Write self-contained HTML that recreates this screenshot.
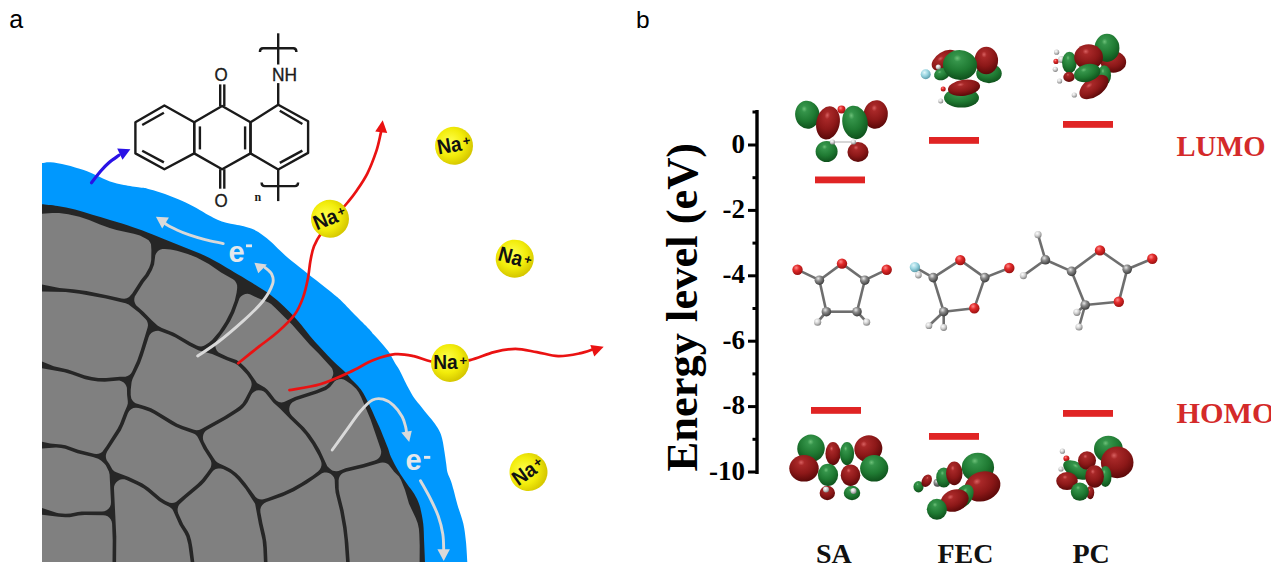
<!DOCTYPE html>
<html><head><meta charset="utf-8"><style>
html,body{margin:0;padding:0;background:#fff;}
body{width:1271px;height:572px;overflow:hidden;position:relative;}
svg{position:absolute;left:0;top:0;}
</style></head><body>
<svg width="1271" height="572" viewBox="0 0 1271 572">
<text x="9.2" y="27.8" font-family="'Liberation Sans', sans-serif" font-size="25" fill="#000">a</text>
<text x="636" y="28.2" font-family="'Liberation Sans', sans-serif" font-size="24.5" fill="#000">b</text>
<path d="M42.0,163.1 C43.4,162.9 46.5,161.9 50.5,162.2 C54.5,162.5 60.7,163.6 66.2,164.9 C71.7,166.2 78.7,168.4 83.7,170.1 C88.7,171.8 91.6,173.4 96.0,175.3 C100.4,177.2 105.3,179.9 110.0,181.5 C114.7,183.1 118.9,184.0 123.9,185.0 C128.9,186.0 136.1,187.0 140.0,187.6 C143.9,188.2 143.3,187.6 147.5,188.7 C151.7,189.8 159.2,191.9 165.0,194.0 C170.8,196.1 177.2,198.7 182.4,201.0 C187.6,203.3 192.0,205.6 196.4,208.0 C200.8,210.4 205.2,213.4 208.7,215.3 C212.2,217.2 214.6,218.5 217.5,219.7 C220.4,220.9 223.3,221.9 226.2,222.7 C229.1,223.5 232.1,223.9 235.0,224.5 C237.9,225.1 240.6,225.3 243.7,226.2 C246.8,227.0 250.6,228.1 253.7,229.6 C256.8,231.1 259.6,232.8 262.5,234.9 C265.4,237.0 268.3,239.3 271.2,241.9 C274.1,244.5 277.1,247.8 280.0,250.6 C282.9,253.4 285.6,255.9 288.7,258.5 C291.8,261.1 295.6,263.9 298.7,266.4 C301.8,268.9 304.6,271.1 307.5,273.4 C310.4,275.7 313.3,278.0 316.2,280.3 C319.1,282.6 322.1,285.0 325.0,287.3 C327.9,289.6 331.2,292.2 333.7,294.3 C336.2,296.4 336.4,296.2 340.0,299.6 C343.6,303.1 350.2,310.1 355.0,315.0 C359.8,319.9 365.9,325.7 369.0,329.0 C372.1,332.3 371.4,332.1 373.7,334.6 C375.9,337.1 379.9,341.1 382.5,344.2 C385.1,347.3 387.5,349.9 389.5,353.0 C391.5,356.1 393.1,359.8 394.7,362.6 C396.3,365.4 397.9,367.3 399.4,370.0 C400.9,372.7 402.2,375.8 403.7,378.7 C405.1,381.6 406.4,384.3 408.1,387.5 C409.9,390.7 412.0,394.8 414.2,398.0 C416.4,401.2 418.9,403.8 421.2,406.7 C423.5,409.6 425.9,412.7 428.2,415.5 C430.5,418.3 432.9,420.9 434.9,423.7 C436.9,426.5 438.8,429.6 440.1,432.5 C441.4,435.4 442.0,437.9 442.7,441.2 C443.4,444.4 443.9,448.2 444.5,452.0 C445.1,455.8 445.7,460.3 446.2,463.7 C446.7,467.1 446.7,469.6 447.5,472.5 C448.3,475.4 450.0,478.3 451.0,481.2 C452.0,484.1 452.5,486.0 453.6,490.0 C454.7,494.0 455.9,499.4 457.5,505.0 C459.1,510.6 461.9,517.5 463.3,523.5 C464.7,529.5 465.2,534.9 465.9,541.3 C466.6,547.7 467.1,558.5 467.3,562.0 L467.3,562 L42,562 Z" fill="#0098fe"/>
<path d="M42.0,204.2 C44.6,204.5 52.0,205.0 57.5,205.9 C63.0,206.8 69.2,207.9 75.0,209.4 C80.8,210.9 86.6,212.9 92.4,214.7 C98.2,216.4 104.2,218.2 110.0,219.9 C115.8,221.7 121.2,223.1 127.4,225.2 C133.7,227.3 141.2,230.0 147.5,232.4 C153.8,234.8 159.2,237.1 165.0,239.4 C170.8,241.7 176.6,244.1 182.4,246.4 C188.2,248.7 194.2,250.8 200.0,253.4 C205.8,256.0 212.2,259.3 217.4,262.2 C222.7,265.1 225.7,267.0 231.5,270.5 C237.3,274.0 246.0,279.1 252.4,283.1 C258.8,287.1 264.7,290.6 270.0,294.5 C275.3,298.4 279.3,302.1 284.0,306.5 C288.7,310.9 293.7,316.1 298.0,321.0 C302.3,325.9 306.6,331.9 310.0,336.0 C313.4,340.1 315.8,342.5 318.7,345.7 C321.6,348.9 324.6,352.2 327.5,355.3 C330.4,358.4 333.3,361.3 336.2,364.1 C339.1,366.9 342.4,369.4 345.0,372.0 C347.6,374.6 349.8,377.7 352.0,380.0 C354.2,382.3 356.1,383.8 358.0,386.0 C359.9,388.2 361.6,390.3 363.5,393.5 C365.4,396.7 367.8,401.6 369.4,405.0 C371.0,408.4 372.1,410.8 373.4,413.7 C374.7,416.6 376.0,419.6 377.3,422.5 C378.6,425.4 380.0,428.3 381.2,431.2 C382.4,434.1 383.5,437.1 384.7,440.0 C385.9,442.9 387.1,445.9 388.2,448.7 C389.2,451.5 389.3,453.3 391.0,457.0 C392.7,460.7 395.8,466.5 398.5,471.0 C401.2,475.5 404.5,480.2 407.1,484.0 C409.7,487.8 412.2,490.4 414.3,494.0 C416.4,497.6 418.1,500.7 419.6,505.6 C421.1,510.5 422.4,517.5 423.2,523.5 C423.9,529.5 423.8,534.9 424.1,541.3 C424.4,547.7 424.9,558.5 425.0,562.0 L425,562 L42,562 Z" fill="#262626"/>
<path d="M419.6,562.0 L419.7,545.6 L419.3,534.0 L418.9,528.7 L417.7,523.2 L415.6,517.7 L409.0,503.8 L405.0,490.1 L401.0,479.9 L399.0,476.6 L394.1,471.7 L388.8,464.8 L387.0,463.5 L384.9,462.7 L382.7,462.4 L380.5,462.8 L364.2,467.4 L346.3,471.7 L343.0,473.0 L341.3,474.3 L339.9,476.1 L339.0,478.1 L338.6,480.3 L338.7,488.9 L339.6,494.3 L343.6,510.2 L346.6,527.3 L348.4,543.2 L349.7,562.0 L419.6,562.0ZM292.5,402.2 L290.8,404.0 L289.7,406.3 L289.2,408.7 L289.4,411.2 L290.3,413.5 L292.2,416.0 L304.1,427.5 L309.9,434.5 L315.2,442.2 L319.8,449.9 L327.3,466.3 L329.7,468.6 L332.2,470.4 L334.2,471.0 L336.4,471.2 L338.5,470.9 L345.5,468.2 L363.2,464.0 L374.8,460.6 L377.0,459.6 L378.9,458.0 L380.3,456.0 L381.1,453.6 L381.2,451.2 L380.6,448.8 L370.4,419.0 L361.2,397.3 L358.6,392.2 L356.1,388.7 L351.2,384.3 L346.0,380.8 L343.8,379.6 L341.4,379.1 L339.0,379.2 L336.7,380.0 L334.7,381.3 L330.1,387.1 L326.1,390.0 L317.1,393.6 L296.3,400.3 L292.5,402.2ZM346.1,562.0 L344.5,539.8 L343.1,527.9 L340.1,511.0 L335.6,492.8 L335.0,487.2 L334.7,479.7 L334.0,477.6 L332.7,475.7 L330.8,474.1 L328.8,473.0 L326.5,472.5 L324.2,472.6 L322.0,473.2 L307.2,483.4 L294.0,491.2 L282.9,496.2 L266.5,502.1 L264.2,503.2 L262.3,504.9 L261.0,507.1 L260.3,509.6 L260.4,512.2 L262.5,523.6 L265.2,535.0 L266.4,541.9 L266.9,548.1 L267.5,562.0 L346.1,562.0ZM216.1,341.5 L215.4,343.8 L215.3,346.2 L215.8,348.5 L216.9,350.7 L218.6,352.4 L220.6,353.6 L227.9,356.9 L236.5,360.1 L241.0,363.2 L245.5,367.6 L249.6,372.2 L257.0,382.9 L264.8,387.6 L267.2,389.5 L270.1,392.7 L274.8,398.9 L276.6,400.7 L278.9,401.9 L281.4,402.4 L284.0,402.1 L294.9,397.0 L315.9,390.3 L324.3,386.8 L326.7,385.3 L328.7,383.3 L331.6,378.6 L333.1,375.1 L333.3,372.9 L332.9,370.7 L332.1,368.6 L330.7,366.8 L318.6,353.5 L310.0,344.9 L292.0,324.6 L275.1,307.8 L271.1,304.1 L268.6,302.4 L257.8,298.1 L249.9,294.2 L247.6,293.8 L245.2,294.1 L243.0,294.9 L241.1,296.3 L239.6,298.1 L234.3,312.5 L230.1,321.2 L224.8,329.7 L216.1,341.5ZM205.6,431.1 L204.2,432.8 L203.3,434.8 L202.9,437.0 L203.0,439.3 L203.7,441.4 L207.6,448.8 L215.3,460.4 L217.1,462.3 L219.3,463.6 L225.3,466.2 L230.7,469.0 L236.4,473.3 L240.3,477.1 L245.3,482.9 L255.6,497.1 L257.5,498.4 L259.7,499.2 L262.0,499.4 L264.3,499.0 L267.7,497.9 L283.7,492.0 L292.2,488.1 L301.1,483.0 L312.8,475.4 L318.2,471.3 L319.8,469.6 L320.9,467.6 L321.5,465.3 L321.5,463.0 L320.9,460.8 L318.5,455.4 L312.2,444.2 L305.6,434.7 L300.1,428.5 L289.7,418.6 L279.9,408.4 L273.2,402.6 L265.4,392.7 L263.4,391.3 L261.2,390.4 L258.7,390.2 L256.4,390.6 L254.2,391.7 L252.3,393.3 L251.0,395.3 L247.7,402.0 L245.6,405.1 L243.0,408.0 L240.1,410.5 L227.5,418.5 L207.4,429.8 L205.6,431.1ZM187.9,531.5 L189.6,535.1 L191.2,540.4 L192.5,547.8 L194.3,562.0 L263.9,562.0 L263.3,548.3 L262.5,540.1 L258.9,524.3 L255.1,503.8 L245.3,488.8 L237.7,479.6 L234.2,476.1 L230.5,473.1 L227.4,471.2 L223.0,469.1 L220.7,468.4 L218.2,468.4 L215.8,469.0 L213.7,470.3 L212.1,472.1 L205.0,481.4 L201.7,484.9 L196.5,489.6 L186.3,498.0 L180.6,503.2 L179.1,504.8 L178.1,506.8 L177.6,509.0 L177.7,511.3 L178.3,513.4 L183.2,524.3 L187.9,531.5ZM131.3,398.4 L132.3,400.3 L133.8,402.0 L135.6,403.2 L145.5,406.2 L151.2,408.3 L155.8,410.8 L172.7,421.1 L177.3,423.7 L182.8,425.9 L194.1,429.8 L196.5,430.2 L199.0,430.0 L201.3,429.1 L224.0,416.5 L235.0,409.6 L239.5,406.3 L242.4,403.4 L245.3,398.8 L250.4,388.9 L251.3,386.6 L251.7,384.2 L251.3,381.7 L250.3,379.4 L246.9,374.5 L240.8,367.9 L237.9,365.3 L235.2,363.5 L226.6,360.3 L212.1,354.0 L198.8,350.4 L189.2,345.7 L175.4,337.6 L169.4,334.7 L160.7,331.5 L158.2,330.8 L155.7,330.9 L153.4,331.7 L151.3,333.0 L149.6,334.9 L148.6,337.2 L142.9,355.3 L139.9,363.6 L132.5,379.1 L131.6,382.0 L130.7,390.0 L130.7,394.9 L131.3,398.4ZM134.8,296.5 L134.3,298.8 L134.3,301.1 L135.0,303.3 L136.1,305.3 L143.7,311.9 L152.0,320.5 L157.8,325.7 L161.9,328.1 L173.9,332.7 L190.8,342.5 L196.8,345.5 L198.9,346.2 L201.1,346.4 L203.3,346.0 L205.3,345.1 L209.1,342.5 L212.3,339.8 L219.1,331.7 L225.7,321.6 L230.9,311.3 L234.8,300.7 L236.6,292.8 L237.2,287.7 L237.1,285.2 L236.3,282.9 L234.9,280.8 L233.0,279.2 L221.1,272.6 L208.8,264.1 L196.7,257.6 L187.7,253.9 L176.9,250.8 L170.7,249.5 L164.8,249.0 L162.4,249.0 L160.0,249.8 L158.0,251.1 L156.4,253.0 L155.3,255.2 L154.1,264.4 L152.0,270.0 L148.5,276.2 L143.6,282.4 L134.8,296.5ZM106.3,453.4 L105.8,455.7 L106.0,458.0 L106.7,460.2 L109.2,463.8 L112.4,469.6 L114.2,471.2 L116.3,472.3 L128.8,477.0 L137.3,480.9 L142.5,483.5 L149.1,488.0 L160.8,498.1 L165.6,501.0 L169.7,502.8 L171.9,503.1 L174.0,502.8 L176.0,502.0 L197.4,484.0 L202.1,479.2 L206.9,473.1 L209.7,469.1 L210.8,467.2 L211.3,465.1 L211.4,462.9 L210.9,460.8 L209.8,458.8 L203.4,448.8 L198.3,438.2 L197.0,436.0 L195.1,434.3 L192.8,433.2 L181.5,429.3 L175.6,426.8 L170.9,424.3 L153.9,413.8 L149.4,411.5 L142.2,408.9 L138.4,407.9 L135.9,407.7 L133.4,408.1 L131.1,409.2 L129.2,411.0 L127.9,413.2 L123.8,424.0 L120.8,430.4 L107.3,451.3 L106.3,453.4ZM114.0,488.7 L116.3,536.7 L116.1,562.0 L190.7,562.0 L188.3,544.5 L186.3,536.7 L184.5,532.9 L179.4,524.8 L173.5,511.4 L172.5,509.5 L171.0,508.0 L169.2,506.8 L163.7,504.1 L158.9,501.1 L147.0,490.9 L143.7,488.5 L137.4,484.9 L126.5,480.0 L124.3,479.3 L122.0,479.3 L119.8,479.8 L117.8,480.9 L116.1,482.4 L114.9,484.3 L114.1,486.4 L114.0,488.7ZM42.0,284.6 L59.5,288.0 L73.2,289.2 L86.5,291.1 L108.3,295.4 L121.6,298.5 L124.2,298.8 L126.8,298.3 L129.1,297.0 L132.2,293.6 L140.7,280.2 L145.3,274.5 L149.2,267.6 L150.5,263.7 L151.2,259.9 L151.4,250.3 L151.0,244.3 L150.0,242.2 L148.6,240.3 L146.1,238.7 L139.9,235.6 L133.8,233.7 L116.5,229.9 L109.7,227.9 L100.0,224.5 L89.1,219.9 L79.4,216.7 L68.2,214.2 L59.1,213.0 L52.3,212.9 L42.0,213.8 L42.0,284.6ZM42.0,361.4 L53.7,366.2 L68.0,369.4 L84.4,375.2 L91.9,377.0 L98.4,377.9 L106.2,378.1 L120.0,376.7 L125.4,376.7 L127.5,376.1 L129.4,375.1 L131.0,373.6 L132.1,371.8 L137.2,360.5 L140.8,350.0 L147.6,327.6 L148.0,325.3 L147.7,322.9 L146.9,320.7 L145.5,318.9 L138.9,312.5 L128.6,304.6 L125.6,303.2 L105.8,298.6 L79.6,293.7 L65.6,292.1 L42.0,291.4 L42.0,361.4ZM42.0,441.8 L50.3,443.6 L61.1,444.4 L65.6,445.2 L78.2,449.7 L94.1,453.7 L96.3,454.0 L98.5,453.8 L100.6,453.0 L102.4,451.7 L106.5,446.1 L117.6,428.6 L119.9,424.0 L124.3,412.4 L127.1,406.1 L127.8,403.6 L127.8,401.1 L127.1,395.0 L126.9,387.8 L126.2,385.7 L125.0,383.8 L123.4,382.3 L121.4,381.2 L119.3,380.6 L104.7,381.7 L98.0,381.4 L91.1,380.6 L85.1,379.2 L71.9,374.4 L64.3,372.2 L42.0,368.3 L42.0,441.8ZM112.5,562.0 L112.7,540.0 L112.1,523.7 L111.7,521.5 L110.8,519.4 L109.4,517.7 L107.6,516.3 L105.5,515.5 L103.3,515.2 L84.7,515.1 L78.5,515.5 L69.8,517.2 L65.2,517.3 L58.6,516.8 L42.0,514.8 L42.0,562.0 L112.5,562.0ZM42.0,508.0 L56.5,512.7 L58.9,513.2 L65.5,513.7 L70.6,513.5 L77.7,512.0 L81.8,511.6 L101.9,511.6 L104.4,511.3 L106.6,510.3 L108.5,508.8 L110.0,506.8 L110.8,504.6 L111.0,502.1 L109.6,474.5 L108.9,471.4 L105.8,465.3 L104.0,463.2 L101.0,460.4 L98.2,458.8 L92.9,457.1 L77.3,453.2 L65.1,448.8 L61.0,448.0 L56.1,447.6 L42.0,448.6 L42.0,508.0Z" fill="#808080"/>
<g fill="none" stroke="#d9d9d9" stroke-width="2.9" stroke-linecap="round">
<path d="M223.2,243.6 C220.2,242.9 210.8,241.0 205.1,239.6 C199.4,238.2 193.9,236.5 189.3,234.9 C184.7,233.3 181.0,231.8 177.5,230.2 C174.0,228.6 170.3,226.8 168.1,225.5 C165.8,224.2 164.7,223.0 164.0,222.5"/>
<path d="M197.7,356.0 C201.2,353.6 211.1,347.4 218.8,341.5 C226.5,335.6 236.4,327.1 243.8,320.4 C251.2,313.6 258.2,307.1 263.0,301.0 C267.8,294.9 271.2,288.3 272.7,283.8 C274.1,279.3 273.0,276.9 271.7,274.2 C270.4,271.5 266.1,268.6 265.0,267.5"/>
<path d="M332.2,450.0 C334.5,446.8 341.5,437.1 346.2,430.7 C350.9,424.3 355.8,416.6 360.2,411.5 C364.6,406.4 368.7,402.2 372.5,400.1 C376.3,398.1 379.5,398.3 383.0,399.2 C386.5,400.1 390.3,402.5 393.5,405.4 C396.7,408.3 400.2,413.1 402.2,416.7 C404.2,420.3 405.0,424.5 405.7,427.2 C406.4,429.9 406.4,432.0 406.5,433.0"/>
<path d="M420.5,480.7 C422.1,483.7 427.3,492.6 430.3,498.5 C433.3,504.4 436.2,510.4 438.3,516.3 C440.4,522.2 441.9,528.5 442.8,534.1 C443.7,539.7 443.6,547.4 443.7,550.0"/>
</g>
<path d="M155.9,216.8 L162.2,228.6 L168.9,217.6 Z" fill="#d9d9d9"/>
<path d="M254.4,262.7 L258.3,273.3 L266.9,264.6 Z" fill="#d9d9d9"/>
<path d="M409.2,442.1 L401.3,432.5 L411.8,430.7 Z" fill="#d9d9d9"/>
<path d="M443.7,560.9 L437.4,549.3 L449.9,549.3 Z" fill="#d9d9d9"/>
<g font-family="'Liberation Sans', sans-serif" font-weight="bold" font-size="29" fill="#e4e8ec"><text x="228.4" y="261.5">e</text><text x="405.6" y="469.7">e</text></g>
<g fill="#e4e8ec"><rect x="246" y="244.4" width="6" height="2.8"/><rect x="424" y="455.9" width="6.3" height="2.9"/></g>
<g fill="none" stroke="#ea1212" stroke-width="2.7" stroke-linecap="round">
<path d="M238.2,363.2 C241.7,360.4 252.6,351.6 259.2,346.4 C265.8,341.2 272.1,337.1 278.0,331.8 C283.9,326.5 290.3,320.5 294.5,314.8 C298.7,309.1 300.8,303.7 303.0,297.6 C305.2,291.5 306.8,284.1 308.0,278.0 C309.2,271.9 309.4,266.3 310.4,261.0 C311.4,255.7 312.1,251.1 314.0,246.3 C315.9,241.5 318.8,236.6 322.0,232.0 C325.2,227.4 328.7,224.0 333.0,219.0 C337.3,214.0 344.2,206.5 348.0,202.0 C351.8,197.5 352.7,196.5 355.9,191.8 C359.1,187.1 363.9,180.4 367.3,173.6 C370.7,166.8 374.1,157.7 376.4,150.9 C378.7,144.1 379.9,136.7 380.9,132.7 C381.9,128.7 382.1,128.0 382.3,127.0"/>
<path d="M289.4,390.1 C294.5,389.1 310.1,387.2 320.1,384.2 C330.1,381.2 340.7,376.2 349.6,372.2 C358.5,368.2 366.0,363.1 373.6,360.1 C381.2,357.1 388.3,354.9 395.0,354.2 C401.7,353.5 407.8,354.9 413.8,356.1 C419.8,357.3 425.2,360.5 431.2,361.5 C437.2,362.5 443.5,362.2 450.0,362.0 C456.5,361.8 462.7,361.8 470.0,360.1 C477.3,358.5 486.4,354.0 494.0,352.1 C501.6,350.2 508.3,348.9 515.4,348.9 C522.5,348.9 529.7,350.9 536.8,352.1 C543.9,353.3 551.1,355.9 558.2,356.1 C565.3,356.3 573.6,354.6 579.6,353.4 C585.6,352.2 591.6,349.7 594.0,349.0"/>
</g>
<path d="M382.7,120.2 L375.2,131.5 L387.2,133 Z" fill="#ea1212"/>
<path d="M603.7,346.8 L590.3,345 L594.3,356.5 Z" fill="#ea1212"/>
<path d="M91.5,182.7 C93.1,180.7 98.0,174.1 101.0,170.7 C104.0,167.3 106.4,164.9 109.4,162.3 C112.4,159.7 117.4,156.5 119.0,155.3" fill="none" stroke="#2a12e6" stroke-width="3.2" stroke-linecap="round"/>
<path d="M130.4,149.2 L117.2,148.6 L122.5,159.7 Z" fill="#2a12e6"/>
<defs><radialGradient id="yb" cx="0.42" cy="0.4" r="0.6"><stop offset="0" stop-color="#ffff50"/><stop offset="0.6" stop-color="#f2ec0a"/><stop offset="1" stop-color="#d6c800"/></radialGradient></defs>
<g transform="translate(330 218.8) rotate(-22)"><circle cx="0" cy="0" r="19" fill="url(#yb)"/><text x="-16.8" y="5.9" font-family="'Liberation Sans', sans-serif" font-weight="bold" font-size="21" fill="#111" textLength="24.5" lengthAdjust="spacingAndGlyphs">Na</text><text x="9.4" y="1.6" font-family="'Liberation Sans', sans-serif" font-weight="bold" font-size="13" fill="#111">+</text></g>
<g transform="translate(454 145.8) rotate(-10)"><circle cx="0" cy="0" r="19" fill="url(#yb)"/><text x="-16.8" y="5.9" font-family="'Liberation Sans', sans-serif" font-weight="bold" font-size="21" fill="#111" textLength="24.5" lengthAdjust="spacingAndGlyphs">Na</text><text x="9.4" y="1.6" font-family="'Liberation Sans', sans-serif" font-weight="bold" font-size="13" fill="#111">+</text></g>
<g transform="translate(514.7 258.7) rotate(15)"><circle cx="0" cy="0" r="19" fill="url(#yb)"/><text x="-16.8" y="5.9" font-family="'Liberation Sans', sans-serif" font-weight="bold" font-size="21" fill="#111" textLength="24.5" lengthAdjust="spacingAndGlyphs">Na</text><text x="9.4" y="1.6" font-family="'Liberation Sans', sans-serif" font-weight="bold" font-size="13" fill="#111">+</text></g>
<g transform="translate(450 362.9) rotate(0)"><circle cx="0" cy="0" r="19" fill="url(#yb)"/><text x="-16.8" y="5.9" font-family="'Liberation Sans', sans-serif" font-weight="bold" font-size="21" fill="#111" textLength="24.5" lengthAdjust="spacingAndGlyphs">Na</text><text x="9.4" y="1.6" font-family="'Liberation Sans', sans-serif" font-weight="bold" font-size="13" fill="#111">+</text></g>
<g transform="translate(528.5 472) rotate(-35)"><circle cx="0" cy="0" r="19" fill="url(#yb)"/><text x="-16.8" y="5.9" font-family="'Liberation Sans', sans-serif" font-weight="bold" font-size="21" fill="#111" textLength="24.5" lengthAdjust="spacingAndGlyphs">Na</text><text x="9.4" y="1.6" font-family="'Liberation Sans', sans-serif" font-weight="bold" font-size="13" fill="#111">+</text></g>
<g fill="none" stroke="#1a1a1a" stroke-width="2.4" stroke-linejoin="round">
<path d="M135.4,122.3 L164.4,105.5 L194.2,122.3 L194.2,153.4 L164.4,169.2 L135.4,153.4 Z"/><path d="M194.2,122.3 L222.1,106 L250.5,122.3 L250.5,153.4 L222.1,169.2 L194.2,153.4 Z"/><path d="M250.5,122.3 L278.2,104.7 L308.1,121.3 L308.1,152.9 L278.2,169.5 L250.5,153.4 Z"/>
<line x1="142.2" y1="125" x2="163.9" y2="112.8"/>
<line x1="142.2" y1="150.7" x2="163.9" y2="162.4"/>
<line x1="199.9" y1="126.4" x2="199.9" y2="149.4"/>
<line x1="245.1" y1="126.4" x2="245.1" y2="149.4"/>
<line x1="279.8" y1="110.7" x2="302.4" y2="124"/>
<line x1="279.8" y1="162.9" x2="302.4" y2="150.6"/>
<line x1="220.2" y1="84.4" x2="220.2" y2="106"/>
<line x1="224.3" y1="84.4" x2="224.3" y2="106"/>
<line x1="220.2" y1="169.2" x2="220.2" y2="188.7"/>
<line x1="224.3" y1="169.2" x2="224.3" y2="188.7"/>
<line x1="278.2" y1="104.7" x2="278.2" y2="83.1"/>
<line x1="278.2" y1="33.3" x2="278.2" y2="64.5"/>
<line x1="278.2" y1="169.5" x2="278.2" y2="201.1"/>
<path d="M259.9,52 Q259.9,48.3 263,48.3 L293.3,48.3 Q296.4,48.3 296.4,52"/>
<path d="M261.6,182.5 Q261.6,186.1 264.7,186.1 L295,186.1 Q298.1,186.1 298.1,182.5"/>
</g>
<g font-family="'Liberation Sans', sans-serif" font-size="18" fill="#1a1a1a" stroke="#1a1a1a" stroke-width="0.35"><text x="214.4" y="80.5" textLength="13.2" lengthAdjust="spacingAndGlyphs">O</text><text x="214.4" y="206.5" textLength="13.2" lengthAdjust="spacingAndGlyphs">O</text><text x="272" y="80.6" textLength="25" lengthAdjust="spacingAndGlyphs">NH</text></g>
<text x="254.5" y="201" font-family="'Liberation Serif', serif" font-weight="bold" font-size="12" fill="#1a1a1a">n</text>
<defs>
<radialGradient id="gG" cx="0.45" cy="0.3" fx="0.4" fy="0.28" r="0.75"><stop offset="0" stop-color="#6cc078"/><stop offset="0.15" stop-color="#35944a"/><stop offset="0.55" stop-color="#1f7a32"/><stop offset="1" stop-color="#0c4a18"/></radialGradient>
<radialGradient id="gR" cx="0.45" cy="0.3" fx="0.4" fy="0.28" r="0.75"><stop offset="0" stop-color="#d86060"/><stop offset="0.15" stop-color="#a82828"/><stop offset="0.55" stop-color="#8c1818"/><stop offset="1" stop-color="#520606"/></radialGradient>
<radialGradient id="aO" cx="0.38" cy="0.32" r="0.7"><stop offset="0" stop-color="#ff8a8a"/><stop offset="0.4" stop-color="#e22a2a"/><stop offset="1" stop-color="#9a1010"/></radialGradient>
<radialGradient id="aC" cx="0.38" cy="0.32" r="0.7"><stop offset="0" stop-color="#e8e8e8"/><stop offset="0.4" stop-color="#8a8a8a"/><stop offset="1" stop-color="#3a3a3a"/></radialGradient>
<radialGradient id="aH" cx="0.38" cy="0.32" r="0.7"><stop offset="0" stop-color="#ffffff"/><stop offset="0.5" stop-color="#d0d0d0"/><stop offset="1" stop-color="#808080"/></radialGradient>
<radialGradient id="aF" cx="0.38" cy="0.32" r="0.7"><stop offset="0" stop-color="#e0f6fa"/><stop offset="0.5" stop-color="#98d4e0"/><stop offset="1" stop-color="#5a9aa8"/></radialGradient>
</defs><g fill="#000">
<rect x="755.3" y="110" width="3.4" height="364"/>
<rect x="752.5" y="110.5" width="4.5" height="3"/>
<rect x="748" y="143.5" width="9" height="3"/>
<rect x="752.5" y="176.2" width="4.5" height="3"/>
<rect x="748" y="208.9" width="9" height="3"/>
<rect x="752.5" y="241.6" width="4.5" height="3"/>
<rect x="748" y="274.3" width="9" height="3"/>
<rect x="752.5" y="307.0" width="4.5" height="3"/>
<rect x="748" y="339.7" width="9" height="3"/>
<rect x="752.5" y="372.4" width="4.5" height="3"/>
<rect x="748" y="405.1" width="9" height="3"/>
<rect x="752.5" y="437.8" width="4.5" height="3"/>
<rect x="748" y="470.5" width="9" height="3"/>
</g>
<g font-family="'Liberation Serif', serif" font-weight="bold" font-size="27" text-anchor="end" fill="#000">
<text x="745" y="152.5">0</text>
<text x="745" y="217.9">-2</text>
<text x="745" y="283.3">-4</text>
<text x="745" y="348.7">-6</text>
<text x="745" y="414.1">-8</text>
<text x="745" y="479.5">-10</text>
</g>
<text transform="translate(697 471.5) rotate(-90)" font-family="'Liberation Serif', serif" font-weight="bold" font-size="44.5" fill="#000">Energy level (eV)</text>
<g fill="#e02424">
<rect x="815" y="176.5" width="50" height="6.8"/>
<rect x="929" y="137" width="50" height="6.8"/>
<rect x="1063" y="121" width="50" height="6.8"/>
<rect x="811" y="407" width="50" height="6.8"/>
<rect x="929" y="433" width="50" height="6.8"/>
<rect x="1063" y="410" width="50" height="6.8"/>
</g>
<g font-family="'Liberation Serif', serif" font-weight="bold" font-size="30" fill="#d42a2a">
<text x="1176.5" y="155.5" textLength="89" lengthAdjust="spacingAndGlyphs">LUMO</text><text x="1176.5" y="423" textLength="99" lengthAdjust="spacingAndGlyphs">HOMO</text>
</g>
<g font-family="'Liberation Serif', serif" font-weight="bold" font-size="28" fill="#111">
<text x="816" y="562.5">SA</text><text x="937.5" y="562.5">FEC</text><text x="1072.5" y="562.5">PC</text>
</g>
<g stroke="#6e6e6e" stroke-width="2.6">
<line x1="797.5" y1="269.7" x2="819.4" y2="280.2"/><line x1="819.4" y1="280.2" x2="842" y2="263.6"/><line x1="842" y1="263.6" x2="864.8" y2="280.2"/><line x1="864.8" y1="280.2" x2="886.7" y2="269.7"/><line x1="819.4" y1="280.2" x2="826.4" y2="311.7"/><line x1="826.4" y1="311.7" x2="857" y2="311.7"/><line x1="857" y1="311.7" x2="864.8" y2="280.2"/><line x1="826.4" y1="311.7" x2="817.6" y2="322.2"/><line x1="857" y1="311.7" x2="866.6" y2="322.2"/>
<line x1="914.9" y1="267.1" x2="933.2" y2="277.6"/><line x1="933.2" y1="277.6" x2="960.3" y2="260.1"/><line x1="960.3" y1="260.1" x2="984.8" y2="277.6"/><line x1="984.8" y1="277.6" x2="1009.3" y2="268"/><line x1="984.8" y1="277.6" x2="974.3" y2="308.2"/><line x1="974.3" y1="308.2" x2="943.7" y2="311.7"/><line x1="943.7" y1="311.7" x2="933.2" y2="277.6"/><line x1="943.7" y1="311.7" x2="928.9" y2="325.7"/><line x1="943.7" y1="311.7" x2="943.7" y2="327.5"/>
<line x1="1038" y1="234.7" x2="1045.4" y2="259.8"/><line x1="1023.4" y1="275.6" x2="1045.4" y2="259.8"/><line x1="1045.4" y1="259.8" x2="1071.6" y2="271.4"/><line x1="1071.6" y1="271.4" x2="1100" y2="250.4"/><line x1="1100" y1="250.4" x2="1127.2" y2="269.3"/><line x1="1127.2" y1="269.3" x2="1152.3" y2="258.8"/><line x1="1127.2" y1="269.3" x2="1118.8" y2="301.8"/><line x1="1118.8" y1="301.8" x2="1085.2" y2="305"/><line x1="1085.2" y1="305" x2="1071.6" y2="271.4"/><line x1="1085.2" y1="305" x2="1076.9" y2="312.3"/><line x1="1085.2" y1="305" x2="1079" y2="327"/>
</g>
<circle cx="797.5" cy="269.7" r="5.2" fill="url(#aO)"/>
<circle cx="842" cy="263.6" r="5.2" fill="url(#aO)"/>
<circle cx="886.7" cy="269.7" r="5.2" fill="url(#aO)"/>
<circle cx="819.4" cy="280.2" r="4.8" fill="url(#aC)"/>
<circle cx="864.8" cy="280.2" r="4.8" fill="url(#aC)"/>
<circle cx="826.4" cy="311.7" r="4.8" fill="url(#aC)"/>
<circle cx="857" cy="311.7" r="4.8" fill="url(#aC)"/>
<circle cx="817.6" cy="322.2" r="3.6" fill="url(#aH)"/>
<circle cx="866.6" cy="322.2" r="3.6" fill="url(#aH)"/>
<circle cx="914.9" cy="267.1" r="5.2" fill="url(#aF)"/>
<circle cx="918.4" cy="275" r="3.4" fill="url(#aH)"/>
<circle cx="933.2" cy="277.6" r="4.8" fill="url(#aC)"/>
<circle cx="960.3" cy="260.1" r="5.2" fill="url(#aO)"/>
<circle cx="984.8" cy="277.6" r="4.8" fill="url(#aC)"/>
<circle cx="1009.3" cy="268" r="5.2" fill="url(#aO)"/>
<circle cx="974.3" cy="308.2" r="5.2" fill="url(#aO)"/>
<circle cx="943.7" cy="311.7" r="4.8" fill="url(#aC)"/>
<circle cx="928.9" cy="325.7" r="3.4" fill="url(#aH)"/>
<circle cx="943.7" cy="327.5" r="3.4" fill="url(#aH)"/>
<circle cx="1038" cy="234.7" r="3.6" fill="url(#aH)"/>
<circle cx="1045.4" cy="259.8" r="4.8" fill="url(#aC)"/>
<circle cx="1023.4" cy="275.6" r="3.6" fill="url(#aH)"/>
<circle cx="1071.6" cy="271.4" r="4.8" fill="url(#aC)"/>
<circle cx="1100" cy="250.4" r="5.2" fill="url(#aO)"/>
<circle cx="1127.2" cy="269.3" r="4.8" fill="url(#aC)"/>
<circle cx="1152.3" cy="258.8" r="5.2" fill="url(#aO)"/>
<circle cx="1118.8" cy="301.8" r="5.2" fill="url(#aO)"/>
<circle cx="1085.2" cy="305" r="4.8" fill="url(#aC)"/>
<circle cx="1076.9" cy="312.3" r="3.6" fill="url(#aH)"/>
<circle cx="1079" cy="327" r="3.6" fill="url(#aH)"/>
<circle cx="841.5" cy="109.5" r="4" fill="url(#aO)"/>
<ellipse cx="807.4" cy="114.7" rx="12.21" ry="14.08" fill="url(#gG)" transform="rotate(-8 807.4 114.7)"/>
<ellipse cx="875.7" cy="114.5" rx="12.1" ry="14.3" fill="url(#gR)" transform="rotate(8 875.7 114.5)"/>
<ellipse cx="826.6" cy="151.5" rx="11.0" ry="10.56" fill="url(#gG)"/>
<ellipse cx="858" cy="152" rx="10.56" ry="10.01" fill="url(#gR)"/>
<line x1="832" y1="142" x2="854" y2="142" stroke="#bbb" stroke-width="1.2"/>
<circle cx="832.5" cy="142" r="2.6" fill="url(#aH)"/>
<circle cx="853.5" cy="142" r="2.6" fill="url(#aH)"/>
<ellipse cx="828" cy="122.9" rx="11.66" ry="16.72" fill="url(#gR)" transform="rotate(12 828 122.9)"/>
<ellipse cx="855" cy="122.4" rx="12.65" ry="16.83" fill="url(#gG)" transform="rotate(-10 855 122.4)"/>
<circle cx="925.7" cy="74.3" r="5" fill="url(#aF)"/>
<circle cx="943.2" cy="89" r="2.5" fill="url(#aO)"/>
<circle cx="940.7" cy="101" r="2.5" fill="url(#aH)"/>
<ellipse cx="989" cy="73.4" rx="12.76" ry="9.79" fill="url(#gG)"/>
<ellipse cx="986.3" cy="60.5" rx="11.77" ry="13.75" fill="url(#gR)"/>
<ellipse cx="961.5" cy="97.8" rx="17.49" ry="9.79" fill="url(#gG)"/>
<ellipse cx="964" cy="87.7" rx="16.17" ry="8.03" fill="url(#gR)" transform="rotate(-8 964 87.7)"/>
<ellipse cx="944.7" cy="60.5" rx="14.3" ry="8.8" fill="url(#gR)" transform="rotate(-32 944.7 60.5)"/>
<ellipse cx="942" cy="74" rx="8.25" ry="6.05" fill="url(#gG)" transform="rotate(-20 942 74)"/>
<ellipse cx="960" cy="65" rx="17.05" ry="14.85" fill="url(#gG)" transform="rotate(5 960 65)"/>
<circle cx="938.3" cy="67" r="2.6" fill="url(#aH)"/>
<circle cx="1056.6" cy="52.2" r="2.6" fill="url(#aH)"/>
<circle cx="1055.3" cy="69.3" r="2.6" fill="url(#aH)"/>
<circle cx="1059.6" cy="81" r="2.6" fill="url(#aH)"/>
<circle cx="1074.3" cy="95" r="2.6" fill="url(#aH)"/>
<circle cx="1056" cy="61.4" r="2.6" fill="url(#aO)"/>
<circle cx="1061.5" cy="59.5" r="3.5" fill="url(#aH)"/>
<ellipse cx="1069.4" cy="62.6" rx="7.37" ry="10.78" fill="url(#gG)"/>
<ellipse cx="1069" cy="77" rx="5.72" ry="5.06" fill="url(#gR)"/>
<ellipse cx="1113.4" cy="62" rx="12.76" ry="10.78" fill="url(#gR)"/>
<ellipse cx="1107" cy="47.9" rx="12.43" ry="14.08" fill="url(#gG)"/>
<ellipse cx="1104.2" cy="75.4" rx="6.82" ry="10.12" fill="url(#gG)"/>
<ellipse cx="1094" cy="87" rx="16.5" ry="9.35" fill="url(#gR)" transform="rotate(-35 1094 87)"/>
<ellipse cx="1088.6" cy="57.1" rx="14.41" ry="12.76" fill="url(#gR)"/>
<ellipse cx="1087.2" cy="73" rx="13.42" ry="8.8" fill="url(#gG)" transform="rotate(-15 1087.2 73)"/>
<ellipse cx="827.3" cy="493" rx="7.7" ry="7.15" fill="url(#gR)"/>
<ellipse cx="852" cy="493" rx="8.25" ry="7.15" fill="url(#gG)"/>
<circle cx="826" cy="489.6" r="3" fill="url(#aH)"/>
<circle cx="853.5" cy="491" r="3" fill="url(#aH)"/>
<ellipse cx="811" cy="448.4" rx="13.75" ry="13.75" fill="url(#gG)" transform="rotate(20 811 448.4)"/>
<ellipse cx="804" cy="468.3" rx="14.74" ry="13.31" fill="url(#gR)"/>
<ellipse cx="868.3" cy="448.7" rx="14.08" ry="13.31" fill="url(#gR)" transform="rotate(-20 868.3 448.7)"/>
<ellipse cx="874.2" cy="468.3" rx="14.08" ry="13.31" fill="url(#gG)"/>
<ellipse cx="833" cy="453.6" rx="7.59" ry="11.55" fill="url(#gR)"/>
<ellipse cx="847" cy="453.6" rx="7.15" ry="11.55" fill="url(#gG)"/>
<ellipse cx="828" cy="474.9" rx="10.12" ry="11.22" fill="url(#gG)"/>
<ellipse cx="850.5" cy="475.2" rx="9.79" ry="10.78" fill="url(#gR)"/>
<ellipse cx="918.5" cy="486.7" rx="5.06" ry="5.72" fill="url(#gG)"/>
<ellipse cx="926.7" cy="480.8" rx="4.73" ry="6.6" fill="url(#gR)" transform="rotate(30 926.7 480.8)"/>
<circle cx="937.5" cy="482.8" r="4" fill="url(#aC)"/>
<ellipse cx="943.8" cy="477.5" rx="7.59" ry="10.12" fill="url(#gG)"/>
<ellipse cx="954.3" cy="473.3" rx="8.25" ry="11.88" fill="url(#gR)"/>
<ellipse cx="977.9" cy="467.4" rx="16.17" ry="14.74" fill="url(#gG)"/>
<ellipse cx="982.4" cy="486.4" rx="18.37" ry="14.74" fill="url(#gR)" transform="rotate(-20 982.4 486.4)"/>
<ellipse cx="963.8" cy="496.2" rx="8.69" ry="12.65" fill="url(#gG)" transform="rotate(30 963.8 496.2)"/>
<ellipse cx="954.6" cy="500.5" rx="14.41" ry="10.78" fill="url(#gR)" transform="rotate(-20 954.6 500.5)"/>
<ellipse cx="936.9" cy="509.3" rx="10.12" ry="10.45" fill="url(#gG)"/>
<circle cx="1062.4" cy="451.2" r="2.6" fill="url(#aH)"/>
<circle cx="1061" cy="469" r="2.6" fill="url(#aH)"/>
<circle cx="1066.4" cy="458.5" r="3" fill="url(#aO)"/>
<ellipse cx="1108.4" cy="449" rx="14.41" ry="13.31" fill="url(#gG)"/>
<ellipse cx="1117.2" cy="462.4" rx="16.28" ry="15.84" fill="url(#gR)"/>
<ellipse cx="1105.4" cy="476.5" rx="6.16" ry="10.45" fill="url(#gG)"/>
<ellipse cx="1076.2" cy="470" rx="14.3" ry="7.7" fill="url(#gG)" transform="rotate(30 1076.2 470)"/>
<ellipse cx="1087" cy="460.5" rx="9.02" ry="9.35" fill="url(#gR)"/>
<ellipse cx="1094.6" cy="476.5" rx="9.35" ry="11.22" fill="url(#gR)"/>
<ellipse cx="1067" cy="481.1" rx="10.78" ry="9.02" fill="url(#gR)"/>
<ellipse cx="1090.3" cy="492.6" rx="3.96" ry="6.6" fill="url(#gR)"/>
<ellipse cx="1079.8" cy="491.7" rx="9.02" ry="9.13" fill="url(#gG)"/>
</svg>
</body></html>
